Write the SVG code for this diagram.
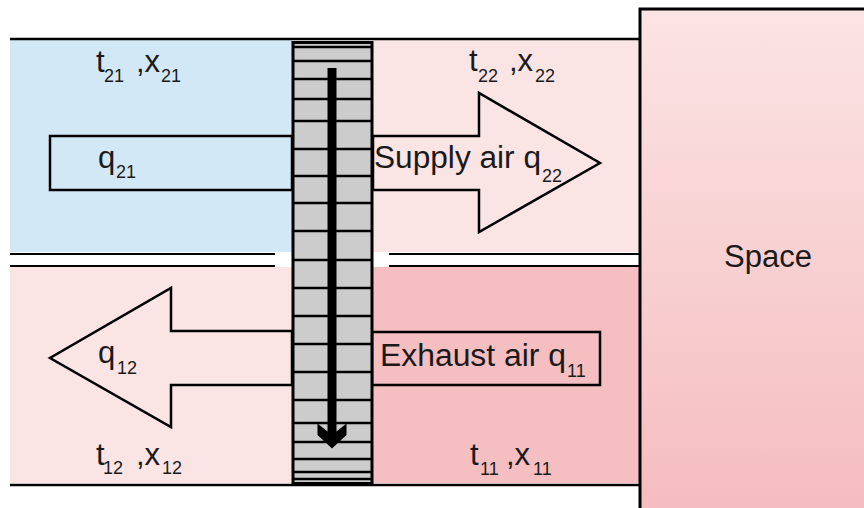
<svg xmlns="http://www.w3.org/2000/svg" width="864" height="508" viewBox="0 0 864 508">
  <defs>
    <linearGradient id="spaceGrad" x1="0" y1="0" x2="0" y2="1">
      <stop offset="0" stop-color="#fbe4e4"/>
      <stop offset="1" stop-color="#f5bcbf"/>
    </linearGradient>
    <style>
      .ln { stroke: #000; stroke-width: 2.5; fill: none; }
      .shape { stroke: #000; stroke-width: 2.5; fill: none; stroke-linejoin: miter; }
      .slat { stroke: #000; stroke-width: 2.5; }
      .t { font-family: "Liberation Sans", Arial, sans-serif; font-size: 31px; fill: #1a1a1a; }
      .s { font-family: "Liberation Sans", Arial, sans-serif; font-size: 18px; fill: #1a1a1a; }
    </style>
  </defs>

  <rect width="864" height="508" fill="#ffffff"/>

  <!-- air regions -->
  <g id="regions">
    <rect x="10" y="40" width="282" height="212" fill="#d3e8f6"/>
    <rect x="372" y="40" width="268" height="212" fill="#fbe4e4"/>
    <rect x="10" y="267" width="282" height="216" fill="#fbe4e4"/>
    <rect x="372" y="267" width="268" height="216" fill="#f5bec0"/>
  </g>

  <!-- duct walls -->
  <g id="walls">
    <line class="ln" x1="10" y1="39" x2="640" y2="39"/>
    <line class="ln" x1="10" y1="485" x2="640" y2="485"/>
    <line class="ln" x1="10" y1="254" x2="275" y2="254" style="stroke-width:2"/>
    <line class="ln" x1="10" y1="266" x2="275" y2="266" style="stroke-width:2"/>
    <line class="ln" x1="389" y1="254" x2="640" y2="254" style="stroke-width:2"/>
    <line class="ln" x1="389" y1="266" x2="640" y2="266" style="stroke-width:2"/>
  </g>

  <!-- Space -->
  <g id="space">
    <rect x="640" y="9" width="230" height="505" fill="url(#spaceGrad)" stroke="#000" stroke-width="3"/>
    <text class="t" x="724" y="267" textLength="88" lengthAdjust="spacingAndGlyphs">Space</text>
  </g>

  <!-- q21 inlet box -->
  <g id="q21">
    <rect class="shape" x="50" y="136" width="242" height="54"/>
    <text class="t" x="98" y="168">q</text>
    <text class="s" x="116" y="178">21</text>
  </g>

  <!-- Supply air arrow -->
  <g id="supply">
    <polygon class="shape" points="373,136 479,136 479,93 600,163 479,232 479,190 373,190"/>
    <text class="t" x="374" y="168" textLength="167" lengthAdjust="spacingAndGlyphs">Supply air q</text>
    <text class="s" x="542" y="182">22</text>
  </g>

  <!-- Exhaust air box -->
  <g id="exhaust">
    <rect class="shape" x="372" y="332" width="228" height="53"/>
    <text class="t" x="380" y="366" textLength="186" lengthAdjust="spacingAndGlyphs">Exhaust air q</text>
    <text class="s" x="567" y="377">11</text>
  </g>

  <!-- q12 outlet arrow -->
  <g id="q12">
    <polygon class="shape" points="292,331 171,331 171,288 50,358 171,427 171,385 292,385"/>
    <text class="t" x="98" y="363">q</text>
    <text class="s" x="117" y="374">12</text>
  </g>

  <!-- state labels -->
  <g id="state21">
    <text x="96" y="72"><tspan class="t">t</tspan><tspan class="s" x="104" y="82">21</tspan><tspan class="t" x="136" y="72">,x</tspan><tspan class="s" x="161" y="82">21</tspan></text>
  </g>
  <g id="state22">
    <text x="469" y="71"><tspan class="t">t</tspan><tspan class="s" x="478" y="82">22</tspan><tspan class="t" x="509" y="71">,x</tspan><tspan class="s" x="535" y="82">22</tspan></text>
  </g>
  <g id="state12">
    <text x="96" y="465"><tspan class="t">t</tspan><tspan class="s" x="103" y="474">12</tspan><tspan class="t" x="136" y="465">,x</tspan><tspan class="s" x="162" y="474">12</tspan></text>
  </g>
  <g id="state11">
    <text x="470" y="465"><tspan class="t">t</tspan><tspan class="s" x="480" y="475">11</tspan><tspan class="t" x="506" y="465">,x</tspan><tspan class="s" x="533" y="475">11</tspan></text>
  </g>

  <!-- heat exchanger -->
  <g id="exchanger">
    <rect x="293" y="42.5" width="79" height="441" fill="#cccccc" stroke="#000" stroke-width="3"/>
    <g class="slat">
      <line x1="293" y1="47" x2="372" y2="47"/>
      <line x1="293" y1="61" x2="372" y2="61"/>
      <line x1="293" y1="79" x2="372" y2="79"/>
      <line x1="293" y1="99" x2="372" y2="99"/>
      <line x1="293" y1="121" x2="372" y2="121"/>
      <line x1="293" y1="149" x2="372" y2="149"/>
      <line x1="293" y1="176" x2="372" y2="176"/>
      <line x1="293" y1="203" x2="372" y2="203"/>
      <line x1="293" y1="231" x2="372" y2="231"/>
      <line x1="293" y1="260" x2="372" y2="260"/>
      <line x1="293" y1="288" x2="372" y2="288"/>
      <line x1="293" y1="316" x2="372" y2="316"/>
      <line x1="293" y1="344" x2="372" y2="344"/>
      <line x1="293" y1="372" x2="372" y2="372"/>
      <line x1="293" y1="400" x2="372" y2="400"/>
      <line x1="293" y1="423" x2="372" y2="423"/>
      <line x1="293" y1="442" x2="372" y2="442"/>
      <line x1="293" y1="459" x2="372" y2="459"/>
      <line x1="293" y1="472" x2="372" y2="472"/>
      <line x1="293" y1="479" x2="372" y2="479"/>
    </g>
  </g>

  <!-- connectors -->
  <g id="connectors">
    <line x1="332" y1="68" x2="332" y2="436" stroke="#000" stroke-width="9"/>
    <polygon points="317.5,423.5 327.5,431.5 336.5,431.5 346.5,423.5 346.5,435 332,448.5 317.5,435" fill="#000"/>
  </g>
</svg>
